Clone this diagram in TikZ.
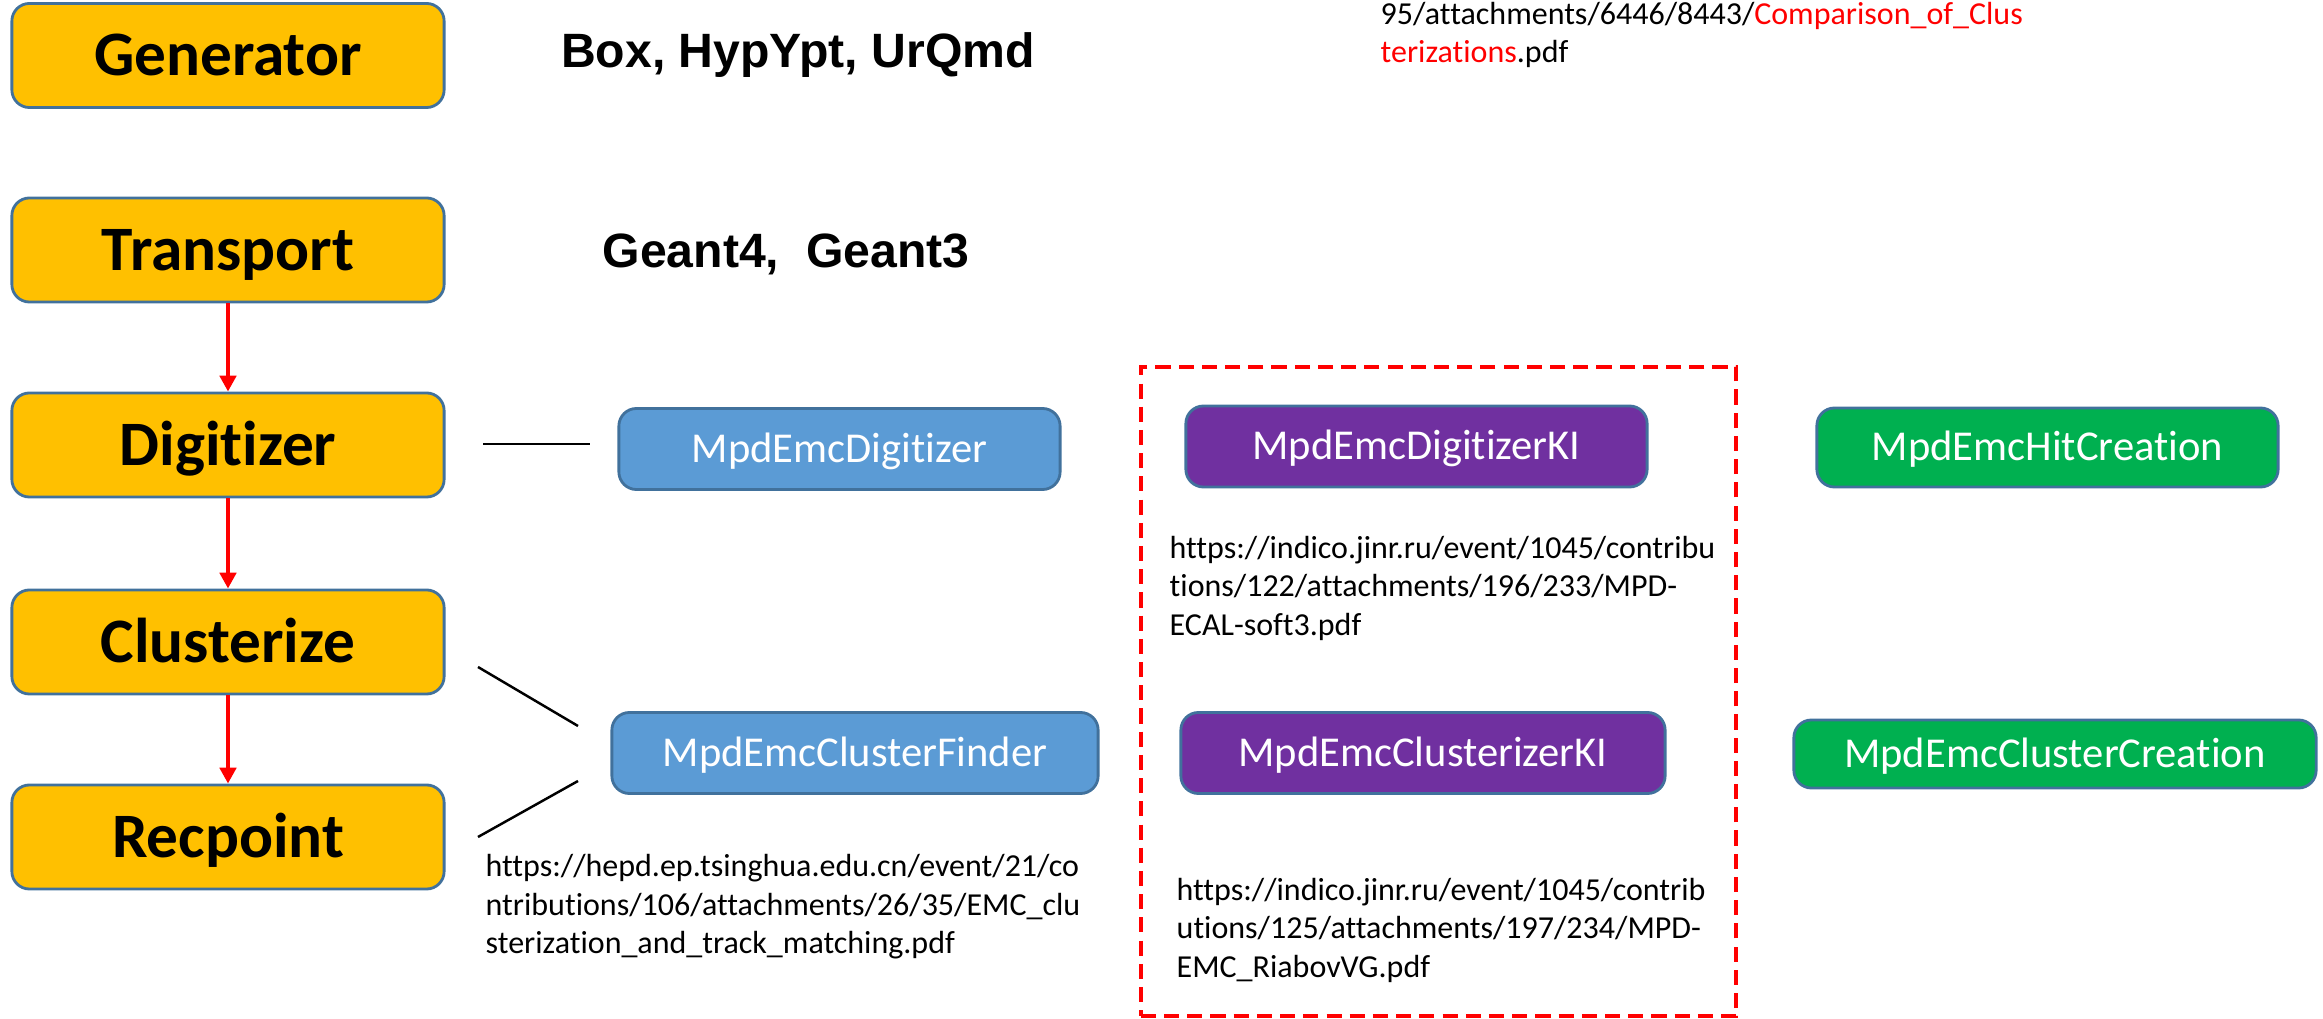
\documentclass[tikz,border=0pt]{standalone}
\usepackage{fontspec}
\setmainfont{Carlito}[Ligatures={NoCommon,NoContextual,NoRare}]
\newfontfamily\arialfont{Liberation Sans}
\usetikzlibrary{arrows.meta}
\definecolor{gold}{HTML}{FFC000}
\definecolor{bordblue}{HTML}{41719C}
\definecolor{cblue}{HTML}{5B9BD5}
\definecolor{cpurple}{HTML}{7030A0}
\definecolor{cgreen}{HTML}{00B050}
\begin{document}
\begin{tikzpicture}[x=0.01cm,y=-0.01cm,
  stage/.style={draw=bordblue, line width=0.8pt, fill=gold, rounded corners=5pt,
    minimum width=4.32cm, minimum height=1.04cm, inner sep=0pt,
    font=\bfseries\fontsize{18}{20}\selectfont, text height=11.4pt, text depth=0pt},
  classbox/.style={draw=bordblue, line width=0.8pt, rounded corners=5pt, text=white,
    minimum height=0.81cm, inner sep=0pt,
    font=\fontsize{12.1}{14}\selectfont, text height=7.65pt, text depth=0pt},
  urltext/.style={font=\fontsize{9.1}{10.95}\selectfont, align=left, inner sep=0pt, anchor=west},
  bigtext/.style={font=\arialfont\bfseries\fontsize{13.7}{16}\selectfont, anchor=base, inner sep=0pt},
  flow/.style={red, line width=1.4pt, -{Triangle[length=4.5pt,width=4.6pt]}},
  conn/.style={black, line width=0.7pt},
  kibox/.style={draw=red, line width=1.1pt, dash pattern=on 4.3pt off 2.3pt,
    minimum width=5.95cm, minimum height=6.49cm, inner sep=0pt}
]
\useasboundingbox (0,0) rectangle (2323,1019);

% stages
\node[stage] (gen) at (228,55.5) {Generator};
\node[stage] (tra) at (228,250) {Transport};
\node[stage] (dig) at (228,445) {Digitizer};
\node[stage] (clu) at (228,642) {Clusterize};
\node[stage] (rec) at (228,837) {Recpoint};

\draw[flow] (tra.south) -- (dig.north);
\draw[flow] (dig.south) -- (clu.north);
\draw[flow] (clu.south) -- (rec.north);

% generator / transport descriptions
\node[bigtext] (gentxt) at (798,68) {Box, HypYpt, UrQmd};
\node[bigtext] (tratxt) at (786,268) {Geant4,~~Geant3};

% KI dashed frame
\node[kibox] (kiframe) at (1438.5,691.5) {};

% class boxes
\node[classbox, fill=cblue, minimum width=4.41cm] (mdig) at (839.5,449) {MpdEmcDigitizer};
\node[classbox, fill=cblue, minimum width=4.86cm] (mclu) at (855,753) {MpdEmcClusterFinder};
\node[classbox, fill=cpurple, minimum width=4.61cm] (kdig) at (1416.5,446.5) {MpdEmcDigitizerKI};
\node[classbox, fill=cpurple, minimum width=4.84cm] (kclu) at (1423,753) {MpdEmcClusterizerKI};
\node[classbox, fill=cgreen, minimum width=4.61cm, minimum height=0.79cm] (hit) at (2047.5,447.5) {MpdEmcHitCreation};
\node[classbox, fill=cgreen, minimum width=5.22cm, minimum height=0.68cm] (ccr) at (2055,754) {MpdEmcClusterCreation};

% connectors
\coordinate (d1) at (483,444);
\coordinate (d2) at (590,444);
\coordinate (c1) at (478,667);
\coordinate (c2) at (578,726);
\coordinate (r1) at (578,781);
\coordinate (r2) at (478,837);
\draw[conn] (d1) -- (d2);
\draw[conn] (c1) -- (c2);
\draw[conn] (r1) -- (r2);

% URLs
\node[urltext] (u1) at (485,907) {https://hepd.ep.tsinghua.edu.cn/event/21/co\\ntributions/106/attachments/26/35/EMC\_clu\\sterization\_and\_track\_matching.pdf};
\node[urltext] (u2) at (1169,588) {https://indico.jinr.ru/event/1045/contribu\\tions/122/attachments/196/233/MPD-\\ECAL-soft3.pdf};
\node[urltext] (u3) at (1176,930) {https://indico.jinr.ru/event/1045/contrib\\utions/125/attachments/197/234/MPD-\\EMC\_RiabovVG.pdf};
\node[urltext] (u4) at (1380,35) {95/attachments/6446/8443/\textcolor{red}{Comparison\_of\_Clus}\\\textcolor{red}{terizations}.pdf};
\end{tikzpicture}
\end{document}
